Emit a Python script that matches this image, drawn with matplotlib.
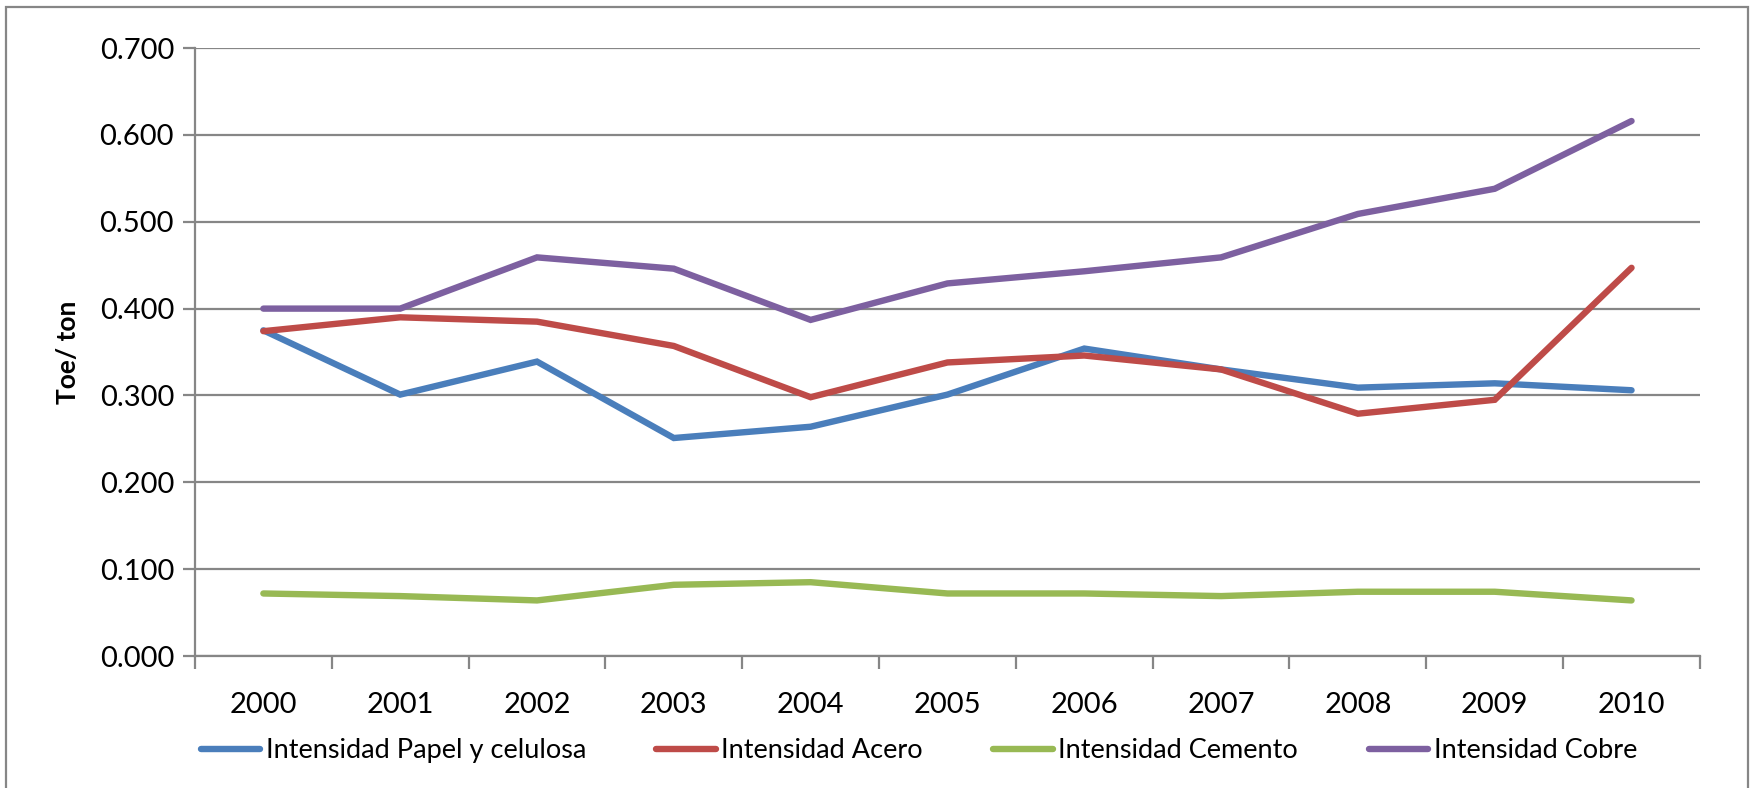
import matplotlib
matplotlib.use('Agg')
import matplotlib.pyplot as plt
import numpy as np
from matplotlib.patches import Rectangle

# Lato is the closest installed match to Calibri
plt.rcParams['font.family'] = ['Lato', 'DejaVu Sans']

years = ['2000', '2001', '2002', '2003', '2004', '2005', '2006', '2007', '2008', '2009', '2010']
papel = [0.375, 0.301, 0.339, 0.251, 0.264, 0.301, 0.354, 0.330, 0.309, 0.314, 0.306]
acero = [0.374, 0.390, 0.385, 0.357, 0.298, 0.338, 0.346, 0.330, 0.279, 0.295, 0.447]
cemento = [0.072, 0.069, 0.064, 0.082, 0.085, 0.072, 0.072, 0.069, 0.074, 0.074, 0.064]
cobre = [0.400, 0.400, 0.459, 0.446, 0.387, 0.429, 0.443, 0.459, 0.509, 0.538, 0.616]

labels = ['Intensidad Papel y celulosa', 'Intensidad Acero', 'Intensidad Cemento', 'Intensidad Cobre']
cols = ['#4A7EBB', '#BE4B48', '#98B954', '#7D60A0']
grid_col = '#868686'

fig = plt.figure(figsize=(17.5, 7.88), dpi=100)
ax = fig.add_axes([0.1114, 0.1675, 0.86, 0.7715])

x = np.arange(len(years))
for dat, c, lab in zip([papel, acero, cemento, cobre], cols, labels):
    ax.plot(x, dat, c=c, lw=4.6, label=lab, solid_capstyle='round', solid_joinstyle='miter', zorder=3)

ax.set_xlim(-0.5, len(years) - 0.5)
ax.set_ylim(0, 0.7)
ax.set_yticks(np.arange(0, 0.71, 0.1))
ax.set_yticklabels(['%.3f' % v for v in np.arange(0, 0.71, 0.1)])
ax.yaxis.grid(True, color=grid_col, lw=1.6)
ax.set_axisbelow(True)

ax.set_xticks(x)
ax.set_xticklabels(years)
ax.set_xticks(np.arange(-0.5, len(years)), minor=True)
ax.tick_params(axis='x', which='major', length=0, pad=26, labelsize=21)
ax.tick_params(axis='x', which='minor', length=9, width=1.6, color=grid_col, direction='out')
ax.tick_params(axis='y', length=9, width=1.6, color=grid_col, labelsize=21, pad=6)

for s in ['top', 'right']:
    ax.spines[s].set_visible(False)
for s in ['left', 'bottom']:
    ax.spines[s].set_color(grid_col)
    ax.spines[s].set_linewidth(1.6)

ax.set_ylabel('Toe/ ton', fontsize=19, fontweight='bold', labelpad=14)

fig.legend(loc='center', bbox_to_anchor=(0.525, 0.047), ncol=4, frameon=False,
           fontsize=19.5, handlelength=2.2, handletextpad=0.2, columnspacing=2.6)

# outer chart border
fig.patches.append(Rectangle((0.0035, -0.05), 0.9955, 1.041, transform=fig.transFigure,
                             fill=False, ec=grid_col, lw=1.6))

fig.savefig('out.png', dpi=100)
